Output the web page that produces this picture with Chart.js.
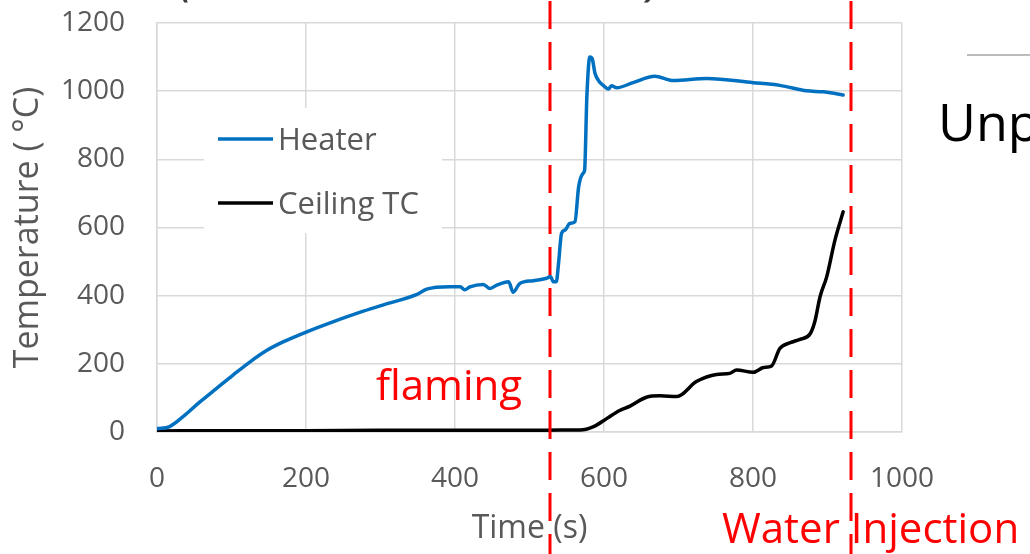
<!DOCTYPE html>
<html>
<head>
<meta charset="utf-8">
<script src="https://cdn.jsdelivr.net/npm/chart.js@4.4.1/dist/chart.umd.min.js"></script>
<style>
  html, body { margin: 0; padding: 0; background: #fff; }
  #wrap { width: 1030px; height: 554px; position: relative; }
</style>
</head>
<body>
<div id="wrap"><canvas id="myChart" width="1030" height="554"></canvas></div>
<script>
// values
var xTicks = [0, 200, 400, 600, 800, 1000];
var yTicks = [0, 200, 400, 600, 800, 1000, 1200];

var heaterTime = [0, 17, 35, 58, 80, 102, 125, 147, 170, 201, 237, 272, 304, 349, 362, 393,
  407, 413, 420, 438, 447, 456, 472, 478, 487, 505, 523, 528, 532, 536, 539, 543, 548, 554,
  561, 566, 572, 574, 577, 581, 584, 588, 593, 600, 606, 610, 617, 639, 668, 693, 738, 800,
  836, 872, 894, 921];
var heaterTemp = [10, 16, 45, 89, 128, 167, 206, 239, 265, 294, 324, 351, 373, 404, 419, 426,
  426, 417, 426, 433, 421, 431, 441, 410, 436, 444, 451, 456, 441, 441, 495, 583, 593, 612,
  617, 720, 759, 769, 984, 1100, 1096, 1052, 1030, 1015, 1006, 1016, 1010, 1025, 1044, 1031, 1037, 1025,
  1017, 1001, 998, 989];

var ceilingTime = [0, 100, 200, 300, 400, 500, 541, 568, 586, 604, 621, 635, 657, 675, 698,
  724, 751, 769, 778, 800, 814, 825, 836, 850, 863, 877, 883, 890, 899, 910, 921];
var ceilingTemp = [3, 4, 4, 5, 5, 5, 6, 6, 16, 40, 63, 76, 102, 106, 104,
  148, 169, 172, 182, 175, 189, 194, 245, 262, 272, 289, 324, 397, 456, 563, 646];

var markers = [527, 931]; // flaming, water injection (s)

function pairs(xs, ys) {
  return xs.map(function(x, i) { return { x: x, y: ys[i] }; });
}

var FONT = "'Open Sans', 'Liberation Sans', sans-serif";

var extras = {
  id: 'extras',
  afterDraw: function(chart) {
    var ctx = chart.ctx;
    var xs = chart.scales.x;
    ctx.save();

    // legend box
    ctx.fillStyle = '#fff';
    ctx.fillRect(204, 108, 238, 125);
    var rows = [139, 203];
    chart.data.datasets.forEach(function(ds, i) {
      ctx.strokeStyle = ds.borderColor;
      ctx.lineWidth = 3.5;
      ctx.beginPath();
      ctx.moveTo(218, rows[i]);
      ctx.lineTo(273, rows[i]);
      ctx.stroke();
      ctx.fillStyle = '#595959';
      ctx.font = '31px ' + FONT;
      ctx.textBaseline = 'alphabetic';
      ctx.textAlign = 'left';
      ctx.fillText(ds.label, 278, rows[i] + 11);
    });

    // cut-off title brackets
    ctx.fillStyle = '#3a3a3a';
    ctx.font = 'italic 56px ' + FONT;
    ctx.fillText('(', 178, -6);
    ctx.fillText(')', 648, -6);

    // slide text on the right
    ctx.fillStyle = '#000';
    ctx.font = '52px ' + FONT;
    ctx.fillText('Unp', 938, 141);
    ctx.strokeStyle = '#a6a6a6';
    ctx.lineWidth = 1.5;
    ctx.beginPath();
    ctx.moveTo(967, 55);
    ctx.lineTo(1030, 55);
    ctx.stroke();

    // annotations
    ctx.fillStyle = '#ff0000';
    ctx.font = '42px ' + FONT;
    ctx.fillText('flaming', 376, 400);
    ctx.fillText('Water Injection', 722, 543);

    // dashed markers
    ctx.strokeStyle = '#ff0000';
    ctx.lineWidth = 3;
    ctx.setLineDash([28, 13]);
    markers.forEach(function(t) {
      var px = Math.round(xs.getPixelForValue(t));
      ctx.beginPath();
      ctx.moveTo(px, 1);
      ctx.lineTo(px, chart.height);
      ctx.stroke();
    });
    ctx.restore();
  }
};

function plain(v) { return String(v); }

var ctx = document.getElementById('myChart').getContext('2d');
var myChart = new Chart(ctx, {
  type: 'line',
  data: {
    datasets: [{
      label: 'Heater',
      data: pairs(heaterTime, heaterTemp),
      borderColor: '#0070c0',
      borderWidth: 3.5,
      pointRadius: 0,
      cubicInterpolationMode: 'monotone',
      borderJoinStyle: 'round',
      borderCapStyle: 'round'
    }, {
      label: 'Ceiling TC',
      data: pairs(ceilingTime, ceilingTemp),
      borderColor: '#000000',
      borderWidth: 3.5,
      pointRadius: 0,
      cubicInterpolationMode: 'monotone',
      borderJoinStyle: 'round',
      borderCapStyle: 'round'
    }]
  },
  options: {
    responsive: false,
    animation: false,
    layout: { padding: { top: 23, right: 128, left: 0, bottom: 0 } },
    plugins: { legend: { display: false }, tooltip: { enabled: false } },
    scales: {
      x: {
        type: 'linear',
        min: xTicks[0],
        max: xTicks[xTicks.length - 1],
        afterBuildTicks: function(s) { s.ticks = xTicks.map(function(v) { return { value: v }; }); },
        afterFit: function(s) { s.height = 122; },
        grid: { color: '#d9d9d9', lineWidth: 1.5, drawTicks: false },
        border: { color: '#d9d9d9', width: 1.5 },
        ticks: { color: '#595959', font: { family: FONT, size: 28 }, padding: 30, maxRotation: 0, callback: plain },
        title: { display: true, text: 'Time (s)', color: '#595959',
                 font: { family: FONT, size: 32 }, padding: { top: 0, bottom: 6 } }
      },
      y: {
        min: yTicks[0],
        max: yTicks[yTicks.length - 1],
        afterBuildTicks: function(s) { s.ticks = yTicks.map(function(v) { return { value: v }; }); },
        afterFit: function(s) { s.width = 157; s.paddingTop = 0; s.paddingBottom = 0; },
        grid: { color: '#d9d9d9', lineWidth: 1.5, drawTicks: false },
        border: { color: '#d9d9d9', width: 1.5 },
        ticks: { color: '#595959', font: { family: FONT, size: 28 }, padding: 32, callback: plain },
        title: { display: true, text: 'Temperature ( °C)', color: '#595959',
                 font: { family: FONT, size: 34 }, padding: { top: 8, bottom: 0 } }
      }
    }
  },
  plugins: [extras]
});
</script>
</body>
</html>
